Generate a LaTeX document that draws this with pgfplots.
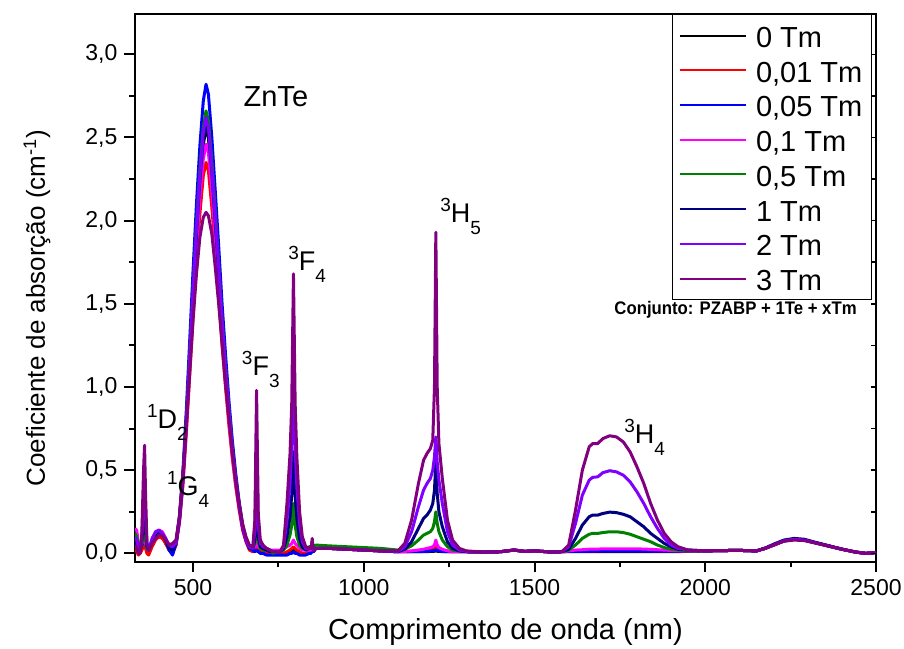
\documentclass[border=0pt]{standalone}
\usepackage{fontspec}
\setmainfont{Liberation Sans}
\usepackage{pgfplots}
\usepackage{pgfplotstable}
\pgfplotsset{compat=1.18}
\definecolor{cgreen}{RGB}{0,128,0}
\definecolor{cnavy}{RGB}{0,0,128}
\definecolor{cviolet}{RGB}{128,0,255}
\definecolor{cpurple}{RGB}{128,0,128}
\definecolor{cmag}{RGB}{255,0,255}
\newcommand{\sps}[1]{\raisebox{0.40em}{\fontsize{9.5}{9.5}\selectfont #1}}
\newcommand{\sbs}[1]{\raisebox{-0.45em}{\fontsize{9.5}{9.5}\selectfont #1}}
\pgfplotstableread{
x k r b m g n v p
330 0.05 0.02 0.08 0.15 0.12 0.09 0.10 0.05
335 0.03 0.01 0.06 0.14 0.10 0.07 0.08 0.03
340 0.00 -0.01 0.03 0.06 0.05 0.04 0.03 0.00
345 0.00 0.00 0.02 0.04 0.03 0.02 0.02 0.00
350 0.03 0.02 0.05 0.06 0.06 0.08 0.10 0.12
355 0.06 0.04 0.08 0.08 0.10 0.18 0.35 0.50
358 0.07 0.05 0.09 0.09 0.12 0.24 0.45 0.65
361 0.04 0.03 0.06 0.06 0.08 0.14 0.25 0.35
365 0.01 0.00 0.03 0.03 0.03 0.04 0.06 0.06
370 0.00 -0.01 0.02 0.02 0.02 0.02 0.02 0.02
380 0.05 0.04 0.07 0.08 0.06 0.07 0.09 0.06
390 0.09 0.08 0.11 0.12 0.10 0.10 0.13 0.09
400 0.11 0.10 0.13 0.14 0.12 0.12 0.14 0.11
410 0.10 0.09 0.12 0.13 0.11 0.11 0.12 0.11
420 0.06 0.06 0.08 0.09 0.08 0.08 0.09 0.08
430 0.02 0.02 0.02 0.04 0.04 0.03 0.05 0.05
440 0.01 0.00 -0.01 0.03 0.03 0.02 0.04 0.06
450 0.05 0.05 0.06 0.06 0.06 0.06 0.06 0.08
460 0.20 0.18 0.22 0.19 0.21 0.20 0.21 0.22
470 0.43 0.40 0.48 0.42 0.45 0.44 0.45 0.47
480 0.77 0.71 0.85 0.74 0.80 0.78 0.79 0.76
490 1.15 1.06 1.27 1.11 1.20 1.16 1.18 1.08
500 1.54 1.42 1.70 1.48 1.60 1.56 1.58 1.40
510 1.90 1.75 2.10 1.83 1.98 1.92 1.95 1.68
520 2.21 2.04 2.45 2.14 2.31 2.24 2.28 1.90
530 2.46 2.27 2.72 2.37 2.56 2.49 2.53 2.02
538 2.55 2.35 2.82 2.46 2.66 2.58 2.62 2.05
545 2.50 2.30 2.76 2.41 2.60 2.53 2.56 2.03
555 2.26 2.08 2.50 2.18 2.36 2.29 2.32 1.92
565 1.97 1.82 2.18 1.90 2.06 1.99 2.03 1.72
575 1.67 1.54 1.85 1.61 1.74 1.69 1.72 1.50
585 1.36 1.25 1.50 1.31 1.41 1.37 1.39 1.26
595 1.08 1.00 1.20 1.05 1.13 1.10 1.11 1.02
605 0.83 0.77 0.92 0.80 0.87 0.84 0.86 0.81
615 0.62 0.57 0.68 0.60 0.64 0.63 0.63 0.61
625 0.44 0.40 0.48 0.42 0.45 0.44 0.45 0.44
635 0.28 0.26 0.31 0.28 0.30 0.29 0.29 0.30
645 0.16 0.14 0.17 0.16 0.17 0.16 0.16 0.18
655 0.08 0.07 0.08 0.08 0.09 0.08 0.08 0.10
665 0.03 0.02 0.03 0.04 0.04 0.04 0.04 0.05
675 0.02 0.01 0.02 0.03 0.03 0.03 0.03 0.04
681 0.02 0.01 0.01 0.04 0.06 0.08 0.14 0.20
686 0.02 0.03 0.02 0.06 0.22 0.34 0.66 0.98
691 0.02 0.01 0.01 0.04 0.07 0.10 0.16 0.24
697 0.01 0.01 0.00 0.03 0.03 0.04 0.06 0.08
705 0.01 0.01 0.00 0.03 0.02 0.03 0.04 0.05
715 0.01 0.00 -0.01 0.03 0.02 0.02 0.03 0.03
725 0.01 0.00 -0.01 0.02 0.01 0.01 0.02 0.02
735 0.00 0.00 -0.01 0.02 0.00 0.01 0.01 0.01
745 0.00 0.00 -0.01 0.02 0.01 0.01 0.01 0.01
755 0.00 0.00 -0.01 0.02 0.01 0.01 0.01 0.01
765 0.00 0.00 -0.01 0.03 0.02 0.03 0.04 0.05
775 0.00 0.01 -0.01 0.04 0.05 0.10 0.20 0.30
784 0.01 0.02 0.00 0.05 0.11 0.22 0.42 0.60
789 0.01 0.03 0.00 0.06 0.17 0.35 0.65 0.90
794 0.02 0.04 0.01 0.08 0.30 0.61 1.15 1.68
799 0.01 0.03 0.00 0.06 0.17 0.35 0.62 0.90
804 0.01 0.02 0.00 0.05 0.10 0.21 0.40 0.58
812 0.00 0.01 -0.01 0.03 0.05 0.09 0.18 0.25
820 0.00 0.00 -0.01 0.02 0.03 0.04 0.07 0.10
830 0.00 0.00 -0.01 0.02 0.03 0.02 0.03 0.04
840 0.01 0.01 0.00 0.02 0.04 0.03 0.03 0.03
846 0.01 0.01 0.00 0.02 0.04 0.03 0.03 0.03
849 0.05 0.05 0.05 0.05 0.07 0.06 0.07 0.09
852 0.01 0.01 0.01 0.02 0.04 0.02 0.02 0.02
860 0.03 0.03 0.03 0.03 0.05 0.03 0.03 0.03
900 0.03 0.03 0.03 0.03 0.045 0.03 0.03 0.03
950 0.025 0.025 0.025 0.025 0.04 0.025 0.025 0.025
1000 0.02 0.02 0.02 0.02 0.035 0.02 0.02 0.02
1050 0.015 0.015 0.015 0.015 0.03 0.015 0.015 0.015
1100 0.01 0.01 0.01 0.01 0.02 0.01 0.012 0.015
1120 0.01 0.01 0.01 0.012 0.025 0.025 0.04 0.06
1140 0.01 0.012 0.01 0.015 0.045 0.07 0.13 0.20
1160 0.01 0.015 0.01 0.02 0.08 0.15 0.28 0.42
1175 0.01 0.018 0.012 0.025 0.11 0.21 0.38 0.56
1185 0.01 0.02 0.012 0.03 0.12 0.23 0.42 0.60
1195 0.012 0.022 0.014 0.035 0.13 0.26 0.45 0.63
1202 0.012 0.025 0.015 0.04 0.15 0.30 0.50 0.68
1207 0.013 0.028 0.017 0.05 0.19 0.38 0.58 1.00
1211 0.015 0.035 0.02 0.08 0.25 0.55 0.70 1.93
1215 0.013 0.025 0.017 0.05 0.18 0.36 0.55 1.00
1220 0.012 0.02 0.015 0.035 0.13 0.25 0.44 0.66
1230 0.011 0.015 0.012 0.025 0.08 0.16 0.30 0.45
1245 0.01 0.012 0.01 0.015 0.04 0.07 0.13 0.20
1260 0.01 0.01 0.01 0.01 0.02 0.03 0.05 0.08
1280 0.01 0.01 0.01 0.01 0.015 0.015 0.02 0.03
1300 0.01 0.01 0.01 0.01 0.012 0.01 0.012 0.015
1350 0.008 0.008 0.008 0.008 0.008 0.008 0.008 0.008
1400 0.01 0.01 0.01 0.01 0.01 0.01 0.01 0.01
1440 0.02 0.02 0.02 0.02 0.02 0.02 0.02 0.02
1470 0.012 0.012 0.012 0.012 0.012 0.012 0.012 0.012
1500 0.015 0.015 0.015 0.015 0.015 0.015 0.015 0.015
1550 0.008 0.008 0.008 0.008 0.008 0.008 0.008 0.008
1580 0.01 0.01 0.01 0.01 0.01 0.01 0.01 0.01
1600 0.01 0.012 0.012 0.015 0.02 0.025 0.04 0.05
1620 0.01 0.013 0.012 0.02 0.05 0.09 0.18 0.26
1640 0.01 0.014 0.012 0.022 0.09 0.17 0.35 0.50
1660 0.01 0.015 0.013 0.025 0.115 0.22 0.44 0.64
1670 0.01 0.015 0.013 0.025 0.12 0.23 0.457 0.66
1685 0.01 0.016 0.013 0.026 0.12 0.23 0.46 0.66
1700 0.01 0.016 0.014 0.027 0.125 0.24 0.485 0.69
1720 0.011 0.017 0.014 0.027 0.13 0.248 0.497 0.707
1740 0.011 0.017 0.014 0.027 0.13 0.245 0.49 0.70
1760 0.011 0.017 0.014 0.027 0.125 0.235 0.47 0.67
1780 0.011 0.017 0.014 0.027 0.115 0.22 0.43 0.61
1800 0.011 0.017 0.014 0.027 0.10 0.19 0.37 0.52
1820 0.011 0.016 0.014 0.026 0.085 0.16 0.30 0.42
1840 0.011 0.016 0.014 0.024 0.07 0.12 0.22 0.30
1860 0.011 0.015 0.014 0.022 0.05 0.09 0.15 0.20
1880 0.011 0.015 0.014 0.02 0.035 0.06 0.09 0.12
1900 0.011 0.014 0.013 0.018 0.025 0.04 0.05 0.07
1920 0.011 0.013 0.013 0.016 0.02 0.025 0.03 0.04
1950 0.012 0.013 0.013 0.015 0.015 0.02 0.02 0.02
2000 0.015 0.015 0.015 0.015 0.015 0.015 0.015 0.015
2050 0.017 0.017 0.017 0.017 0.017 0.017 0.017 0.017
2100 0.018 0.018 0.018 0.018 0.018 0.018 0.018 0.018
2150 0.015 0.015 0.015 0.015 0.015 0.015 0.015 0.015
2175 0.03 0.03 0.03 0.03 0.03 0.032 0.03 0.03
2200 0.05 0.05 0.05 0.05 0.05 0.055 0.05 0.05
2230 0.075 0.075 0.075 0.075 0.075 0.08 0.075 0.073
2260 0.085 0.085 0.085 0.085 0.085 0.09 0.085 0.08
2290 0.08 0.08 0.08 0.08 0.08 0.085 0.08 0.077
2320 0.065 0.065 0.065 0.065 0.065 0.068 0.065 0.063
2360 0.045 0.045 0.045 0.045 0.045 0.047 0.045 0.044
2400 0.025 0.025 0.025 0.025 0.025 0.026 0.025 0.025
2440 0.008 0.008 0.008 0.008 0.008 0.008 0.008 0.008
2470 0.0 0.0 0.0 0.0 0.0 0.0 0.0 0.0
2500 0.005 0.005 0.005 0.005 0.005 0.005 0.005 0.005
}\spec

\begin{document}
\begin{tikzpicture}
\path[use as bounding box] (0,0) rectangle (452pt,324pt);
\begin{axis}[
  at={(67.5pt,43.15pt)}, anchor=south west,
  scale only axis, width=370.5pt, height=273.9pt,
  xmin=330, xmax=2500, ymin=-0.05, ymax=3.243,
  xtick={500,1000,1500,2000,2500},
  minor x tick num=1,
  ytick={0,0.5,1,1.5,2,2.5,3},
  minor y tick num=1,
  xtick pos=left, ytick pos=left,
  tick align=outside,
  major tick length=5.3pt, minor tick length=2.8pt,
  axis line style={line width=1pt},
  every tick/.style={black, line width=1pt},
  every minor tick/.style={black, line width=1pt},
  tick label style={font=\fontsize{11.5}{13}\selectfont},
  /pgf/number format/assume math mode=true,
  xticklabel style={/pgf/number format/1000 sep={}},
  yticklabel style={/pgf/number format/.cd, fixed, fixed zerofill, precision=1, use comma},
  xlabel={Comprimento de onda (nm)},
  ylabel={Coeficiente de absorção (cm\textsuperscript{-1})},
  xlabel style={font=\fontsize{14.5}{16}\selectfont, at={(axis description cs:0.5,-0.1278)}, anchor=center},
  ylabel style={font=\fontsize{13}{15}\selectfont, at={(axis description cs:-0.1323,0.463)}, anchor=center},
  legend cell align=left,
  legend image code/.code={\draw[line width=1pt] (0pt,0pt) -- (33pt,0pt); \path (36pt,0pt);},
  legend style={at={(axis description cs:0.9946,1)}, anchor=north east,
    draw=black, line width=0.6pt, fill=white,
    font=\fontsize{14.5}{16}\selectfont,
    inner xsep=3pt, inner ysep=4pt, row sep=4.36pt,
    nodes={inner xsep=1.5pt, inner ysep=0pt, text height=12.5pt, text depth=0.5pt}},
  every axis plot/.append style={line width=1.5pt, line join=round},
]
\addplot[black] table[x=x,y=k]{\spec};
\addlegendentry{0 Tm}
\addplot[red] table[x=x,y=r]{\spec};
\addlegendentry{0,01 Tm}
\addplot[blue] table[x=x,y=b]{\spec};
\addlegendentry{0,05 Tm}
\addplot[cmag] table[x=x,y=m]{\spec};
\addlegendentry{0,1 Tm}
\addplot[cgreen] table[x=x,y=g]{\spec};
\addlegendentry{0,5 Tm}
\addplot[cnavy] table[x=x,y=n]{\spec};
\addlegendentry{1 Tm}
\addplot[cviolet] table[x=x,y=v]{\spec};
\addlegendentry{2 Tm}
\addplot[cpurple] table[x=x,y=p]{\spec};
\addlegendentry{3 Tm}

\begin{scope}[every node/.style={anchor=base west, inner sep=0pt, font=\fontsize{13.5}{15}\selectfont}]
\node at (axis cs:647,2.686) {\fontsize{14.5}{16}\selectfont ZnTe};
\node at (axis cs:364,0.75) {\sps{1}D\sbs{2}};
\node at (axis cs:423,0.35) {\sps{1}G\sbs{4}};
\node at (axis cs:642,1.072) {\sps{3}F\sbs{3}};
\node at (axis cs:778,1.70) {\sps{3}F\sbs{4}};
\node at (axis cs:1223,1.99) {\sps{3}H\sbs{5}};
\node at (axis cs:1762,0.66) {\sps{3}H\sbs{4}};
\node[xscale=0.92] at (axis cs:1733,1.434) {\fontsize{9.1}{10}\selectfont\bfseries Conjunto: PZABP + 1Te + xTm};
\end{scope}
\end{axis}
\begin{axis}[
  at={(67.5pt,43.15pt)}, anchor=south west,
  scale only axis, width=370.5pt, height=273.9pt,
  xmin=330, xmax=2500, ymin=-0.05, ymax=3.243,
  hide x axis, axis y line*=right,
  ytick={0,0.5,1,1.5,2,2.5,3}, minor y tick num=1,
  yticklabels={}, tick align=inside,
  major tick length=2.5pt, minor tick length=2.5pt,
  axis line style={draw=none},
  every tick/.style={black, line width=0.8pt},
  every minor tick/.style={black, line width=0.8pt},
]
\end{axis}
\end{tikzpicture}
\end{document}
